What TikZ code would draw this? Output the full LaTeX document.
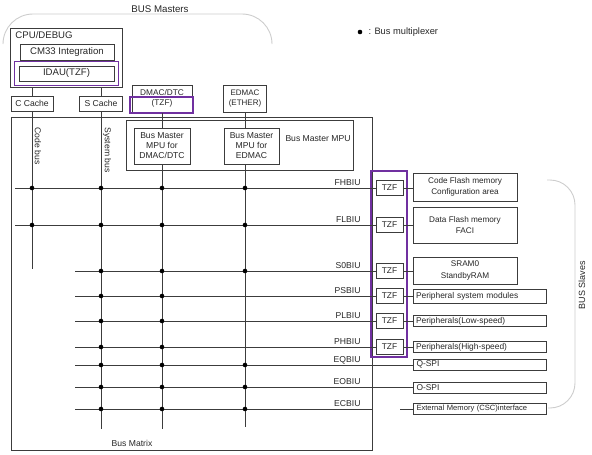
\documentclass[tikz,border=0pt]{standalone}
\usepackage{fontspec}
\setmainfont{Liberation Sans}
\usepackage{xcolor}
\usetikzlibrary{positioning,fit}
\definecolor{tzfpurple}{RGB}{112, 48, 160}
\definecolor{linegray}{RGB}{60, 60, 60}
\definecolor{bracegray}{RGB}{205, 205, 205}
\newcommand{\fsz}[2]{\fontsize{#1}{#2}\selectfont}

\begin{document}
\begin{tikzpicture}[x=1pt, y=-1pt, line width=1pt,
    box/.style={draw=linegray, inner sep=0pt, align=center, text=black!85, font=\fsz{8.6}{10}},
    tzfbox/.style={box, minimum width=27, minimum height=15, font=\fsz{8.4}{10}},
    slavebox/.style={box, minimum width=104, font=\fsz{8.2}{11.5}},
    slaveline/.style={box, text width=127, inner xsep=3pt, minimum height=11, align=left, font=\fsz{8.4}{10}},
    tzfmark/.style={draw=tzfpurple, line width=1.8pt, inner sep=4pt},
    bus/.style={draw=linegray},
    brace/.style={draw=bracegray, line width=0.9pt},
    txt/.style={inner sep=0pt, text=black!85, font=\fsz{8.6}{10}}]
    \useasboundingbox (0,0) rectangle (592,455);

    % Parameters
        \def\xcode{32} % Code bus column
        \def\xsys{101} % System bus column
        \def\xdmac{162} % DMAC/DTC column
        \def\xedmac{245} % EDMAC column

        % Bus masters
        \node[txt, font=\fsz{9.7}{11}] (masters) at (160,9) {BUS Masters};
        \draw[brace, rounded corners=30] (3,44) -- (3,14) -- (272,14) -- (272,44);

        \node[box, minimum width=112, minimum height=59] (cpu) at (66,57.5) {};
        \node[txt, anchor=west, font=\fsz{9.6}{11}] (cputxt) at (15,35) {CPU/DEBUG};
        \node[box, minimum width=94, minimum height=16, font=\fsz{9.6}{11}] (cm33) at (67,52) {CM33 Integration};
        \node[box, minimum width=95, minimum height=15, font=\fsz{9.6}{11}] (idau) at (66.5,73.5) {IDAU(TZF)};
        \node[tzfmark, fit=(idau)] (idaumark) {};

        \node[box, minimum width=42, minimum height=15] (ccache) at (\xcode,103.5) {C Cache};
        \node[box, minimum width=43, minimum height=15] (scache) at (\xsys,103.5) {S Cache};
        \draw[bus] (cpu.south -| ccache) -- (ccache.north);
        \draw[bus] (cpu.south -| scache) -- (scache.north);

        \node[box, minimum width=60, minimum height=27, font=\fsz{8.3}{9.5}] (dmac) at (\xdmac,98.5) {DMAC/DTC\\(TZF)};
        \draw[tzfmark] (130,97) rectangle (193,113);
        \node[box, minimum width=43, minimum height=27, font=\fsz{8}{9.5}] (edmac) at (\xedmac,98.5) {EDMAC\\(ETHER)};

        % Bus matrix and master MPU
        \node[box, minimum width=361, minimum height=333] (mtx) at (191.5,283.5) {};
        \node[txt] (mtxtxt) at (132,443) {Bus Matrix};
        \node[box, minimum width=227, minimum height=50] (mpu) at (239.5,145) {};
        \node[txt] (mputxt) at (318,139) {Bus Master MPU};
        \node[box, minimum width=56, minimum height=36] (mpudmac) at (\xdmac,146) {Bus Master\\MPU for\\DMAC/DTC};
        \node[box, minimum width=55, minimum height=36] (mpuedmac) at (251.5,146) {Bus Master\\MPU for\\EDMAC};
        \draw[bus] (dmac.south) -- (mpudmac.north);
        \draw[bus] (edmac.south) -- (edmac.south |- mpuedmac.north);

        % Master columns
        \coordinate (codeend) at (\xcode,269);
        \coordinate (sysend) at (\xsys,429);
        \coordinate (dmacend) at (\xdmac,429);
        \coordinate (edmacend) at (\xedmac,427);
        \draw[bus] (ccache.south) -- (codeend);
        \draw[bus] (scache.south) -- (sysend);
        \draw[bus] (mpudmac.south) -- (dmacend);
        \draw[bus] (edmac.south |- mpuedmac.south) -- (edmacend);
        \node[txt, rotate=-90] (codetxt) at (38,146) {Code bus};
        \node[txt, rotate=-90] (systxt) at (107,150) {System bus};

        % Bus slaves
        \node[txt, rotate=90, font=\fsz{9}{10}] (slaves) at (582,285) {BUS Slaves};
        \draw[brace, rounded corners=25] (547,180) -- (575,180) -- (575,408) -- (548,408);

        \foreach \k/\yy in {1/188, 2/225, 3/271, 4/296, 5/321, 6/347} {
            \node[tzfbox] (tzf\k) at (389.5,\yy) {TZF};
        }
        \draw[tzfmark] (371,171) rectangle (407,357);

        \node[slavebox, minimum height=28] (sl1) at (465,187) {Code Flash memory\\Configuration area};
        \node[slavebox, minimum height=36] (sl2) at (465,225) {Data Flash memory\\FACI};
        \node[slavebox, minimum height=27] (sl3) at (465,270.5) {SRAM0\\StandbyRAM};
        \node[slaveline, minimum height=14] (sl4) at (479.5,296) {Peripheral system modules};
        \node[slaveline] (sl5) at (479.5,321) {Peripherals(Low-speed)};
        \node[slaveline] (sl6) at (479.5,347) {Peripherals(High-speed)};
        \node[slaveline] (sl7) at (480,364.5) {Q-SPI};
        \node[slaveline] (sl8) at (480,388) {O-SPI};
        \node[slaveline, font=\fsz{7.6}{9}] (sl9) at (480,408.5) {External Memory (CSC)interface};

        % Slave buses
        \foreach \nm/\yy/\xs [count=\k] in {FHBIU/188/15, FLBIU/225/15, S0BIU/271/75, PSBIU/296/75,
                PLBIU/321/75, PHBIU/347/75, EQBIU/365/75, EOBIU/387/75, ECBIU/409/75} {
            \coordinate (bs\k) at (\xs,\yy);
            \node[txt, anchor=base east] (biu\k) at (361,\yy-3) {\nm};
        }
        \foreach \k in {1,...,6} {
            \draw[bus] (bs\k) -- (tzf\k.west);
            \draw[bus] (tzf\k.east) -- (tzf\k.east -| sl\k.west);
        }
        \draw[bus] (bs7) -- (bs7 -| sl7.west);
        \draw[bus] (bs8) -- (bs8 -| sl8.west);
        \draw[bus] (bs9) -- (bs9 -| mtx.east);
        \coordinate (ecstub) at (400,409);
        \draw[bus] (ecstub) -- (ecstub -| sl9.west);

        % Bus multiplexers
        \foreach \yy in {188,225}
            \foreach \xx in {\xcode,\xsys,\xdmac,\xedmac} \fill (\xx,\yy) circle (2.3);
        \foreach \yy in {271,365,387,409}
            \foreach \xx in {\xsys,\xdmac,\xedmac} \fill (\xx,\yy) circle (2.3);
        \foreach \yy in {296,321,347}
            \foreach \xx in {\xsys,\xdmac} \fill (\xx,\yy) circle (2.3);

        % Legend
        \fill (360,32) circle (2.3);
        \node[txt, anchor=west, font=\fsz{9.3}{11}] (legend) at (368,32) {: Bus multiplexer};
    \end{tikzpicture}
\end{document}
